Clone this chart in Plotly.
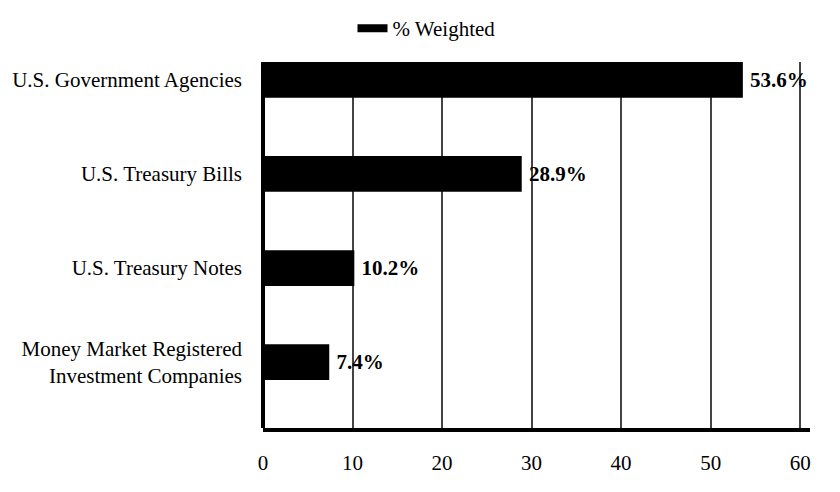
import plotly.graph_objects as go

# holdings by category (top to bottom as shown)
categories = [
    "U.S. Government Agencies",
    "U.S. Treasury Bills",
    "U.S. Treasury Notes",
    "Money Market Registered<br>Investment Companies",
]
weights = [53.6, 28.9, 10.2, 7.4]
labels = ["53.6%", "28.9%", "10.2%", "7.4%"]
x_ticks = [0, 10, 20, 30, 40, 50, 60]

FONT = "Liberation Serif"

fig = go.Figure()
fig.add_trace(go.Bar(
    y=categories,
    x=weights,
    orientation="h",
    width=0.38,
    marker=dict(color="#000000", line=dict(width=0)),
    text=["\u2009" + t for t in labels],
    textposition="outside",
    textfont=dict(family=FONT, size=21, color="#000000", weight="bold"),
    cliponaxis=False,
    showlegend=False,
    name="% Weighted",
))
# legend entry drawn as a flat black swatch
fig.add_trace(go.Scatter(
    x=[None], y=[None],
    mode="lines",
    line=dict(color="#000000", width=8),
    name="% Weighted",
    showlegend=True,
))

# page body adds an 8px offset, so the figure is 8px smaller each way
fig.update_layout(
    width=832, height=484,
    margin=dict(l=255, r=30, t=54, b=64),
    plot_bgcolor="white",
    paper_bgcolor="white",
    font=dict(family=FONT, size=21, color="#000000"),
    legend=dict(
        orientation="h",
        x=0.503, xref="container", xanchor="center",
        y=1.0, yref="container", yanchor="top",
        font=dict(family=FONT, size=21, color="#000000"),
    ),
    xaxis=dict(
        range=[0, 61.1],
        tickvals=x_ticks,
        showgrid=True,
        gridcolor="#444444",
        gridwidth=2,
        zeroline=True,
        zerolinecolor="#000000",
        zerolinewidth=4,
        showline=True,
        linecolor="#000000",
        linewidth=4,
        ticks="",
        ticklabelstandoff=13,
        tickfont=dict(family=FONT, size=21),
        automargin=False,
    ),
    yaxis=dict(
        categoryorder="array",
        categoryarray=categories[::-1],
        range=[-0.70, 3.19],
        showgrid=False,
        zeroline=False,
        showline=False,
        ticks="",
        ticklabelstandoff=20,
        tickfont=dict(family=FONT, size=21),
        automargin=False,
    ),
)

fig.write_html("out.html")
